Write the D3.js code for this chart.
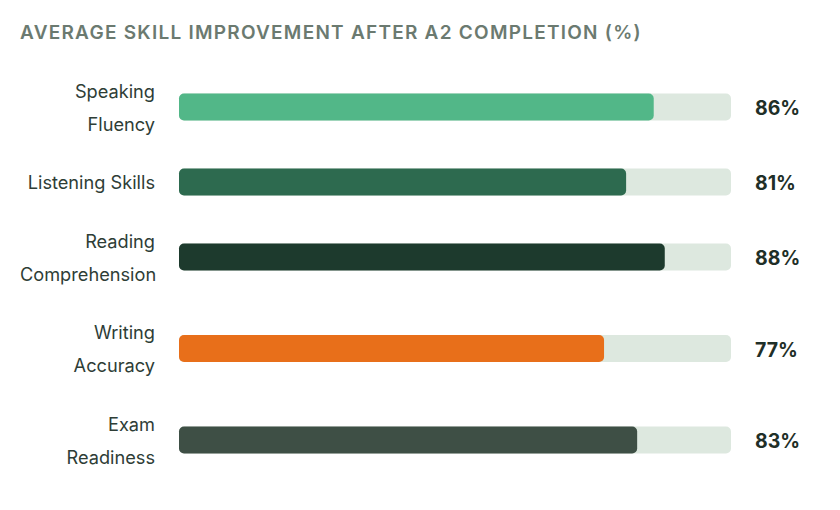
<!DOCTYPE html>
<html><head><meta charset="utf-8">
<script src="https://cdn.jsdelivr.net/npm/d3@7"></script>
<style>
html,body{margin:0;padding:0;background:#fff;}
svg{display:block;}
</style></head>
<body><svg id="chart" width="840" height="510"></svg>
<script>
const title = "AVERAGE SKILL IMPROVEMENT AFTER A2 COMPLETION (%)";
const categories = [["Speaking","Fluency"],["Listening Skills"],["Reading","Comprehension"],["Writing","Accuracy"],["Exam","Readiness"]];
const values = [86, 81, 88, 77, 83];
const barColors = ["#52b788", "#2d6a4f", "#1d3a2d", "#e86f1a", "#3e4f45"];
const maxValue = 100;

const svg = d3.select("#chart");
const font = "Inter, 'DejaVu Sans', sans-serif";

svg.append("text").attr("x", 20).attr("y", 32).attr("dominant-baseline", "central")
  .attr("font-family", font).attr("font-size", 19).attr("font-weight", 600)
  .attr("letter-spacing", 1.25).attr("fill", "#6b7a70").text(title);

const x = d3.scaleLinear().domain([0, maxValue]).range([179, 731]);

// row layout driven by number of label lines
const lineH = 33, gap = 25.5;
let rowTop = 74;
const centers = categories.map(c => {
  const h = c.length * lineH;
  const cy = rowTop + h / 2;
  rowTop += h + gap;
  return cy;
});

const barH = 27;
const rows = svg.selectAll("g.row").data(values).join("g").attr("class", "row");

rows.append("rect").attr("x", x(0)).attr("y", (d, i) => centers[i] - barH / 2)
  .attr("width", x(maxValue) - x(0)).attr("height", barH).attr("rx", 5)
  .attr("fill", "#dde8df");

rows.append("rect").attr("x", x(0)).attr("y", (d, i) => centers[i] - barH / 2)
  .attr("width", d => x(d) - x(0)).attr("height", barH).attr("rx", 5)
  .attr("fill", (d, i) => barColors[i]);

rows.append("text").attr("x", 755).attr("y", (d, i) => centers[i] + 1)
  .attr("dominant-baseline", "central").attr("font-family", font)
  .attr("font-size", 19.5).attr("font-weight", 700).attr("fill", "#1f2f28")
  .text(d => d + "%");

const labelRight = 155, labelLeft = 20;
categories.forEach((lines, i) => {
  lines.forEach((ln, j) => {
    const cy = centers[i] + (j - (lines.length - 1) / 2) * lineH;
    const t = svg.append("text").attr("y", cy).attr("dominant-baseline", "central")
      .attr("font-family", font).attr("font-size", 18.2).attr("fill", "#2e3d36")
      .text(ln);
    const w = t.node().getComputedTextLength();
    if (w > labelRight - labelLeft) {
      t.attr("x", labelLeft).attr("text-anchor", "start");
    } else {
      t.attr("x", labelRight).attr("text-anchor", "end");
    }
  });
});
</script></body></html>
